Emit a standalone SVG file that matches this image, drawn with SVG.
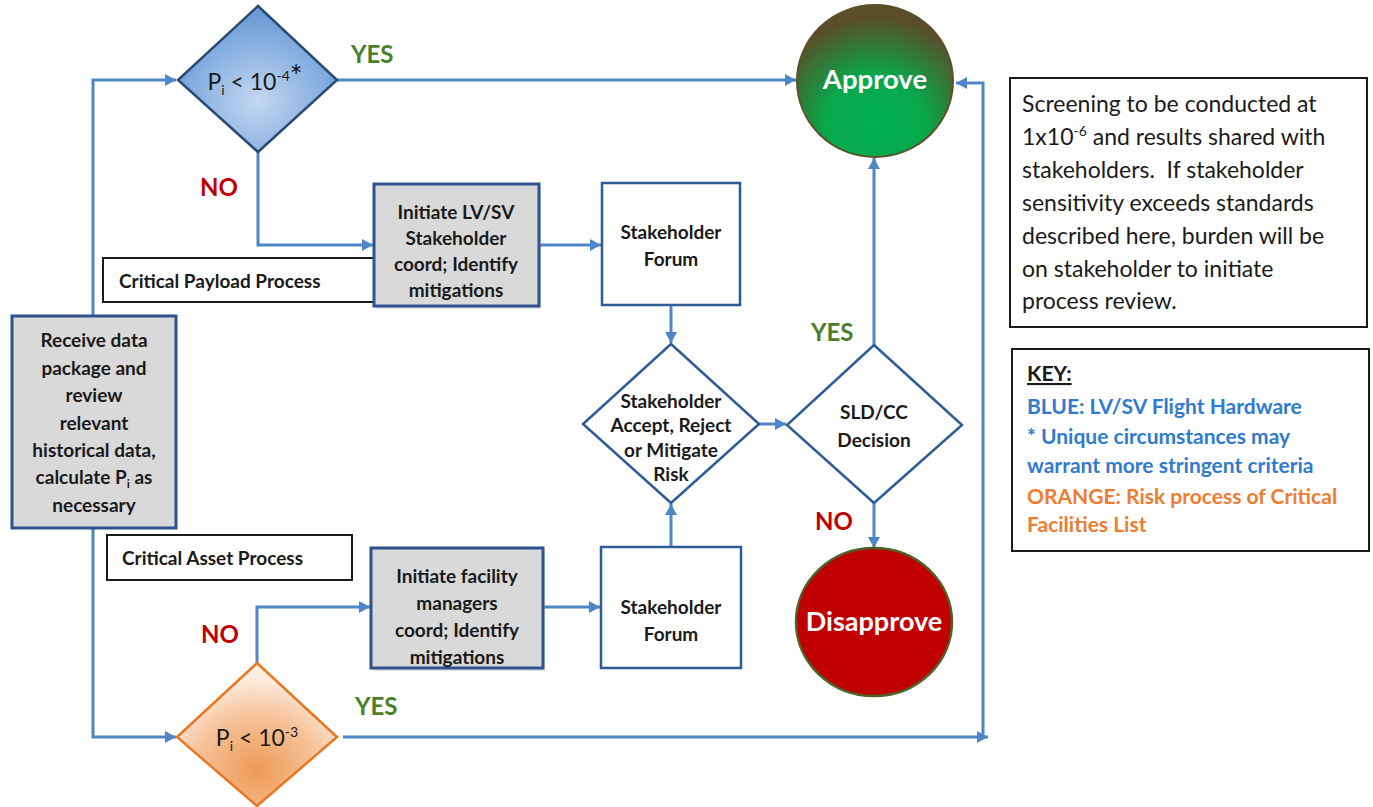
<svg xmlns="http://www.w3.org/2000/svg" width="1373" height="807" viewBox="0 0 1373 807">
<style>
text{font-family:Lato,"Liberation Sans",sans-serif;}
.c{fill:none;stroke:#4f86c6;stroke-width:3;}
.bx{font-weight:bold;font-size:19px;fill:#1a1a1a;text-anchor:middle;}
.lbl{font-weight:bold;font-size:19px;fill:#1a1a1a;}
.yes{font-weight:bold;font-size:24px;fill:#4a7f2c;}
.no{font-weight:bold;font-size:24px;fill:#c00000;}
.gray{fill:#d9d9d9;stroke:#2f528f;stroke-width:3;}
.wht{fill:#ffffff;stroke:#2f5c97;stroke-width:2.5;}
.note{font-size:23px;fill:#1a1a1a;}
.key{font-weight:bold;font-size:21px;}
</style>
<defs>
<marker id="ah" markerUnits="userSpaceOnUse" markerWidth="12" markerHeight="12" refX="11" refY="6" orient="auto">
<path d="M0,0 L11,6 L0,12 z" fill="#4f86c6"/>
</marker>
<radialGradient id="gBlue" cx="0.5" cy="0.65" r="0.6">
<stop offset="0" stop-color="#c3d8f1"/>
<stop offset="1" stop-color="#6a9bd8"/>
</radialGradient>
<radialGradient id="gOrange" cx="0.5" cy="0.75" r="0.65">
<stop offset="0" stop-color="#ee9a56"/>
<stop offset="0.6" stop-color="#f6c39b"/>
<stop offset="1" stop-color="#fdeee2"/>
</radialGradient>
<radialGradient id="gGreen" cx="0.5" cy="0.78" r="0.7">
<stop offset="0" stop-color="#00b050"/>
<stop offset="0.45" stop-color="#07a84a"/>
<stop offset="1" stop-color="#5a4d2a"/>
</radialGradient>
</defs>

<g id="connectors">
<path class="c" d="M93,316 V80 H176" marker-end="url(#ah)"/>
<path class="c" d="M93,528 V737 H176" marker-end="url(#ah)"/>
<path class="c" d="M337,80 H796" marker-end="url(#ah)"/>
<path class="c" d="M258,152 V245 H373" marker-end="url(#ah)"/>
<path class="c" d="M539,245 H601" marker-end="url(#ah)"/>
<path class="c" d="M671,305 V343" marker-end="url(#ah)"/>
<path class="c" d="M759,424 H786" marker-end="url(#ah)"/>
<path class="c" d="M874,345 V158" marker-end="url(#ah)"/>
<path class="c" d="M874,503 V548" marker-end="url(#ah)"/>
<path class="c" d="M257,663 V607 H370" marker-end="url(#ah)"/>
<path class="c" d="M543,607 H600" marker-end="url(#ah)"/>
<path class="c" d="M671,547 V504" marker-end="url(#ah)"/>
<path class="c" d="M343,737 H988" marker-end="url(#ah)"/>
<path class="c" d="M983,737 V83 H956" marker-end="url(#ah)"/>
</g>

<g id="labels">
<text class="yes" x="351" y="63">YES</text>
<text class="no" x="200" y="196">NO</text>
<text class="yes" x="811" y="341">YES</text>
<text class="no" x="815" y="530">NO</text>
<text class="no" x="201" y="643">NO</text>
<text class="yes" x="355" y="715">YES</text>
</g>

<g id="diamond-top">
<polygon points="258,6 337,80 258,152 178,80" fill="url(#gBlue)" stroke="#2b4a74" stroke-width="2.5"/>
<text x="255" y="90" font-size="23" fill="#1a1a1a" text-anchor="middle">P<tspan font-size="14" dy="5">i</tspan><tspan dy="-5"> &lt; 10</tspan><tspan font-size="14" dy="-9">-4</tspan><tspan font-size="30" dy="6">*</tspan></text>
</g>

<g id="payload-label">
<rect x="103" y="258" width="271" height="44" fill="#fff" stroke="#1a1a1a" stroke-width="2"/>
<text class="lbl" x="119" y="288">Critical Payload Process</text>
</g>

<g id="initiate-lvsv">
<rect x="376" y="187" width="165" height="122" fill="#c8c8c8" opacity="0.5"/>
<rect class="gray" x="374" y="184" width="165" height="122"/>
<text class="bx" x="456" y="219">Initiate LV/SV</text>
<text class="bx" x="456" y="245">Stakeholder</text>
<text class="bx" x="456" y="271">coord; Identify</text>
<text class="bx" x="456" y="297">mitigations</text>
</g>

<g id="forum-top">
<rect class="wht" x="602" y="183" width="138" height="122"/>
<text class="bx" x="671" y="239">Stakeholder</text>
<text class="bx" x="671" y="266">Forum</text>
</g>

<g id="stakeholder-decision">
<polygon points="671,344 759,424 671,503 583,424" fill="#fff" stroke="#2f5c97" stroke-width="2.5"/>
<text class="bx" font-size="15.5" x="671" y="408">Stakeholder</text>
<text class="bx" font-size="15.5" x="671" y="432">Accept, Reject</text>
<text class="bx" font-size="15.5" x="671" y="457">or Mitigate</text>
<text class="bx" font-size="15.5" x="671" y="481">Risk</text>
</g>

<g id="sld-decision">
<polygon points="874,345 962,425 874,503 787,425" fill="#fff" stroke="#2f5c97" stroke-width="2.5"/>
<text class="bx" x="874" y="419">SLD/CC</text>
<text class="bx" x="874" y="447">Decision</text>
</g>

<g id="approve">
<ellipse cx="875" cy="81" rx="78" ry="76" fill="url(#gGreen)" stroke="#5b4f2c" stroke-width="2"/>
<text x="875" y="89" font-size="27.5" font-weight="bold" fill="#fff" text-anchor="middle">Approve</text>
</g>

<g id="disapprove">
<ellipse cx="874" cy="622" rx="78" ry="74" fill="#c00000" stroke="#4f6228" stroke-width="2.5"/>
<text x="874" y="631" font-size="27" font-weight="bold" fill="#fff" text-anchor="middle">Disapprove</text>
</g>

<g id="receive">
<rect class="gray" x="12" y="316" width="164" height="212" stroke="#1f3c7a"/>
<text class="bx" x="94" y="347">Receive data</text>
<text class="bx" x="94" y="375">package and</text>
<text class="bx" x="94" y="402">review</text>
<text class="bx" x="94" y="430">relevant</text>
<text class="bx" x="94" y="457">historical data,</text>
<text class="bx" x="94" y="484">calculate P<tspan font-size="12" dy="4">i</tspan><tspan dy="-4"> as</tspan></text>
<text class="bx" x="94" y="512">necessary</text>
</g>

<g id="asset-label">
<rect x="107" y="535" width="245" height="45" fill="#fff" stroke="#1a1a1a" stroke-width="2"/>
<text class="lbl" x="122" y="565">Critical Asset Process</text>
</g>

<g id="initiate-facility">
<rect x="373" y="551" width="172" height="120" fill="#c8c8c8" opacity="0.5"/>
<rect class="gray" x="371" y="548" width="172" height="120"/>
<text class="bx" x="457" y="583">Initiate facility</text>
<text class="bx" x="457" y="610">managers</text>
<text class="bx" x="457" y="637">coord; Identify</text>
<text class="bx" x="457" y="664">mitigations</text>
</g>

<g id="forum-bottom">
<rect class="wht" x="601" y="547" width="140" height="121"/>
<text class="bx" x="671" y="614">Stakeholder</text>
<text class="bx" x="671" y="641">Forum</text>
</g>

<g id="diamond-bottom">
<polygon points="257,663 337,737 257,806 177,737" fill="url(#gOrange)" stroke="#e87722" stroke-width="2.5"/>
<text x="257" y="746" font-size="23" fill="#1a1a1a" text-anchor="middle">P<tspan font-size="14" dy="5">i</tspan><tspan dy="-5"> &lt; 10</tspan><tspan font-size="14" dy="-9">-3</tspan></text>
</g>

<g id="screening-note">
<rect x="1010" y="78" width="357" height="249" fill="#fff" stroke="#1a1a1a" stroke-width="2"/>
<text class="note" x="1022" y="112">Screening to be conducted at</text>
<text class="note" x="1022" y="145">1x10<tspan font-size="14" dy="-9">-6</tspan><tspan dy="9"> and results shared with</tspan></text>
<text class="note" x="1022" y="178">stakeholders.&#160; If stakeholder</text>
<text class="note" x="1022" y="211">sensitivity exceeds standards</text>
<text class="note" x="1022" y="244">described here, burden will be</text>
<text class="note" x="1022" y="277">on stakeholder to initiate</text>
<text class="note" x="1022" y="309">process review.</text>
</g>

<g id="key">
<rect x="1012" y="349" width="357" height="202" fill="#fff" stroke="#1a1a1a" stroke-width="2"/>
<text class="key" x="1027" y="381" fill="#1a1a1a" text-decoration="underline">KEY:</text>
<text class="key" x="1027" y="414" fill="#2e7bcf">BLUE: LV/SV Flight Hardware</text>
<text class="key" x="1027" y="444" fill="#2e7bcf">* Unique circumstances may</text>
<text class="key" x="1027" y="473" fill="#2e7bcf">warrant more stringent criteria</text>
<text class="key" x="1027" y="504" fill="#ed7d31">ORANGE: Risk process of Critical</text>
<text class="key" x="1027" y="532" fill="#ed7d31">Facilities List</text>
</g>
</svg>
